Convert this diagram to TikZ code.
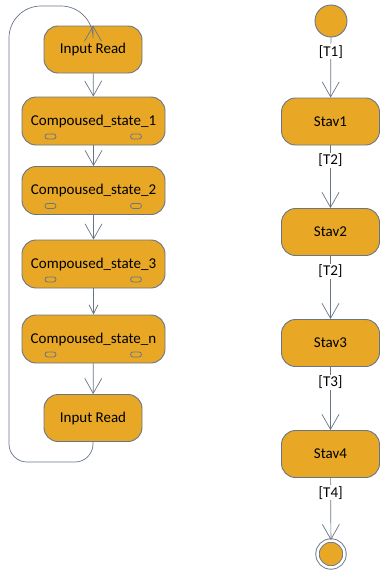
\documentclass[tikz,border=0pt]{standalone}
\usepackage{fontspec}
\setmainfont{Carlito}
\usetikzlibrary{arrows.meta,positioning}
\definecolor{stfill}{HTML}{E8A825}
\definecolor{stline}{HTML}{687587}
\begin{document}
\begin{tikzpicture}[x=1pt, y=-1pt,
font=\fontsize{15}{18}\selectfont,
state/.style={draw=stline, fill=stfill, line width=0.9pt, rounded corners=14pt,
  minimum width=98pt, minimum height=47pt, inner sep=0pt},
cstate/.style={state, minimum width=143pt, minimum height=48pt},
port/.style={draw=stline, fill=stfill, line width=0.8pt, rounded corners=2.5pt,
  minimum width=11pt, minimum height=5pt, inner sep=0pt},
pseudo/.style={circle, draw=stline, fill=stfill, line width=0.9pt, minimum size=32pt, inner sep=0pt},
trans/.style={draw=stline, line width=0.7pt, -{Straight Barb[length=15pt, width=17pt]}},
shorttrans/.style={trans, -{Straight Barb[length=9pt, width=9pt]}},
guard/.style={fill=white, inner sep=1pt, pos=0.24}]
\useasboundingbox (0,0) rectangle (380,570);

% left column
\node[state]  (ir1) at (93,49.5) {Input Read};
\node[cstate] (c1) at (93.5,121) {Compoused\_state\_1};
\node[cstate] (c2) at (93.5,190.5) {Compoused\_state\_2};
\node[cstate] (c3) at (93.5,264) {Compoused\_state\_3};
\node[cstate] (cn) at (93.5,339) {Compoused\_state\_n};
\node[state]  (ir2) at (93,418) {Input Read};
\foreach \n in {c1,c2,c3,cn} {
  \node[port] (\n-l) at ([xshift=-43pt, yshift=9pt]\n.south) {};
  \node[port] (\n-r) at ([xshift=42.5pt, yshift=9pt]\n.south) {};
}

\draw[trans] (ir1) -- (c1);
\draw[trans] (c1) -- (c2);
\draw[trans] (c2) -- (c3);
\draw[shorttrans] (c3) -- (cn);
\draw[trans] (cn) -- (ir2);

\coordinate (loopbl) at (9,462);
\coordinate (looptop) at (93,6);
\draw[trans, rounded corners=18pt] (ir2.south) |- (loopbl)
  [rounded corners=32pt] |- (looptop) [rounded corners=7pt] -- (ir1.north);

% right column
\node[pseudo] (init) at (331,21) {};
\node[state] (s1) at (330.5,121.5) {Stav1};
\node[state] (s2) at (330.5,232) {Stav2};
\node[state] (s3) at (330.5,343) {Stav3};
\node[state] (s4) at (330.5,454) {Stav4};
\node[pseudo, minimum size=27pt, double=white, double distance=2.5pt] (fin) at (331,554) {};

\draw[trans] (init) -- node[guard] {[T1]} (s1);
\draw[trans] (s1) -- node[guard] {[T2]} (s2);
\draw[trans] (s2) -- node[guard] {[T2]} (s3);
\draw[trans] (s3) -- node[guard] {[T3]} (s4);
\draw[trans] (s4) -- node[guard] {[T4]} (fin);
\end{tikzpicture}
\end{document}
